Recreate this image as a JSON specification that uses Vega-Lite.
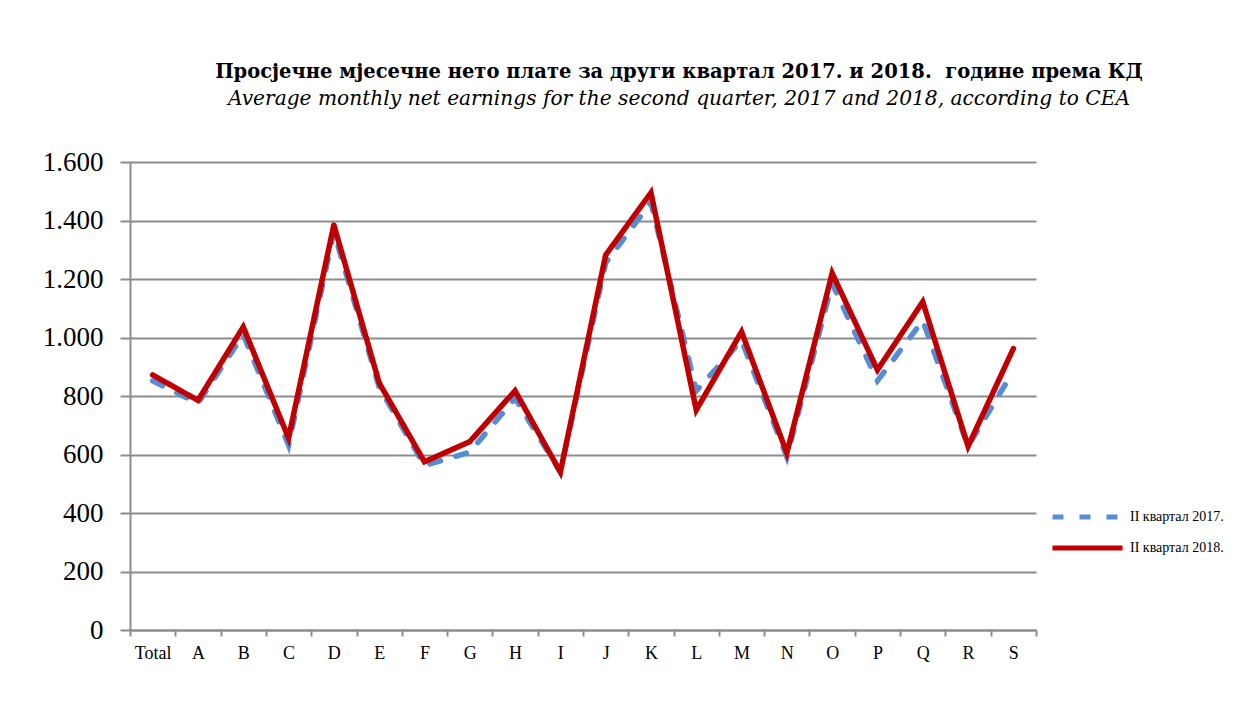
{
  "$schema": "https://vega.github.io/schema/vega-lite/v6.json",
  "width": 906,
  "height": 468,
  "autosize": {"type": "none"},
  "padding": {"left": 130, "top": 162, "right": 216, "bottom": 90},
  "background": "white",
  "title": {
    "text": "Просјечне мјесечне нето плате за други квартал 2017. и 2018. \u00a0године према КД",
    "subtitle": "Average monthly net earnings for the second quarter, 2017 and 2018, according to CEA",
    "anchor": "middle",
    "dx": 96,
    "offset": 38,
    "font": "DejaVu Serif",
    "fontSize": 19.5,
    "fontWeight": "bold",
    "color": "#000000",
    "subtitleFont": "DejaVu Serif",
    "subtitleFontSize": 20.2,
    "subtitleFontStyle": "italic",
    "subtitleColor": "#000000",
    "subtitlePadding": 6
  },
  "data": {
    "values": [
      {"kd": "Total", "serija": "II квартал 2017.", "plata": 852},
      {"kd": "A", "serija": "II квартал 2017.", "plata": 775},
      {"kd": "B", "serija": "II квартал 2017.", "plata": 1010},
      {"kd": "C", "serija": "II квартал 2017.", "plata": 632},
      {"kd": "D", "serija": "II квартал 2017.", "plata": 1362},
      {"kd": "E", "serija": "II квартал 2017.", "plata": 830},
      {"kd": "F", "serija": "II квартал 2017.", "plata": 562},
      {"kd": "G", "serija": "II квартал 2017.", "plata": 608},
      {"kd": "H", "serija": "II квартал 2017.", "plata": 792},
      {"kd": "I", "serija": "II квартал 2017.", "plata": 540},
      {"kd": "J", "serija": "II квартал 2017.", "plata": 1255},
      {"kd": "K", "serija": "II квартал 2017.", "plata": 1462},
      {"kd": "L", "serija": "II квартал 2017.", "plata": 818},
      {"kd": "M", "serija": "II квартал 2017.", "plata": 990},
      {"kd": "N", "serija": "II квартал 2017.", "plata": 592},
      {"kd": "O", "serija": "II квартал 2017.", "plata": 1185},
      {"kd": "P", "serija": "II квартал 2017.", "plata": 852},
      {"kd": "Q", "serija": "II квартал 2017.", "plata": 1058},
      {"kd": "R", "serija": "II квартал 2017.", "plata": 628},
      {"kd": "S", "serija": "II квартал 2017.", "plata": 885},
      {"kd": "Total", "serija": "II квартал 2018.", "plata": 872},
      {"kd": "A", "serija": "II квартал 2018.", "plata": 785},
      {"kd": "B", "serija": "II квартал 2018.", "plata": 1036},
      {"kd": "C", "serija": "II квартал 2018.", "plata": 656},
      {"kd": "D", "serija": "II квартал 2018.", "plata": 1385},
      {"kd": "E", "serija": "II квартал 2018.", "plata": 845},
      {"kd": "F", "serija": "II квартал 2018.", "plata": 575},
      {"kd": "G", "serija": "II квартал 2018.", "plata": 644},
      {"kd": "H", "serija": "II квартал 2018.", "plata": 818},
      {"kd": "I", "serija": "II квартал 2018.", "plata": 540},
      {"kd": "J", "serija": "II квартал 2018.", "plata": 1282},
      {"kd": "K", "serija": "II квартал 2018.", "plata": 1495},
      {"kd": "L", "serija": "II квартал 2018.", "plata": 752},
      {"kd": "M", "serija": "II квартал 2018.", "plata": 1020},
      {"kd": "N", "serija": "II квартал 2018.", "plata": 605},
      {"kd": "O", "serija": "II квартал 2018.", "plata": 1220},
      {"kd": "P", "serija": "II квартал 2018.", "plata": 889},
      {"kd": "Q", "serija": "II квартал 2018.", "plata": 1122},
      {"kd": "R", "serija": "II квартал 2018.", "plata": 628},
      {"kd": "S", "serija": "II квартал 2018.", "plata": 962}
    ]
  },
  "mark": {"type": "line", "strokeWidth": 5.5, "strokeCap": "round", "strokeJoin": "miter"},
  "encoding": {
    "x": {
      "field": "kd",
      "type": "ordinal",
      "sort": ["Total", "A", "B", "C", "D", "E", "F", "G", "H", "I", "J", "K", "L", "M", "N", "O", "P", "Q", "R", "S"],
      "scale": {"type": "band", "paddingInner": 0, "paddingOuter": 0},
      "axis": {
        "title": null,
        "labelAngle": 0,
        "labelFont": "Liberation Serif",
        "labelFontSize": 18,
        "labelColor": "#000000",
        "labelPadding": 8,
        "tickBand": "extent",
        "tickSize": 6,
        "tickColor": "#8c8c8c",
        "tickWidth": 2,
        "domainColor": "#8c8c8c",
        "domainWidth": 2,
        "grid": false
      }
    },
    "y": {
      "field": "plata",
      "type": "quantitative",
      "scale": {"domain": [0, 1600], "nice": false, "zero": true},
      "axis": {
        "title": null,
        "values": [0, 200, 400, 600, 800, 1000, 1200, 1400, 1600],
        "labelExpr": "replace(format(datum.value, ','), ',', '.')",
        "labelFont": "Liberation Serif",
        "labelFontSize": 27,
        "labelColor": "#000000",
        "labelPadding": 17,
        "tickSize": 10,
        "tickColor": "#8c8c8c",
        "tickWidth": 2,
        "domainColor": "#8c8c8c",
        "domainWidth": 2,
        "grid": true,
        "gridColor": "#8c8c8c",
        "gridWidth": 2
      }
    },
    "color": {
      "field": "serija",
      "type": "nominal",
      "scale": {"domain": ["II квартал 2017.", "II квартал 2018."], "range": ["#558ed5", "#c00000"]},
      "legend": {
        "title": null,
        "orient": "none",
        "legendX": 920,
        "legendY": 345,
        "symbolType": "stroke",
        "symbolSize": 4900,
        "symbolStrokeWidth": 5,
        "clipHeight": 20,
        "rowPadding": 11,
        "labelFont": "Liberation Serif",
        "labelFontSize": 14,
        "labelColor": "#000000",
        "labelOffset": 5
      }
    },
    "strokeDash": {
      "field": "serija",
      "type": "nominal",
      "scale": {"domain": ["II квартал 2017.", "II квартал 2018."], "range": [[11, 16], [1, 0]]},
      "legend": {
        "title": null,
        "orient": "none",
        "legendX": 920,
        "legendY": 345,
        "symbolType": "stroke",
        "symbolSize": 4900,
        "symbolStrokeWidth": 5,
        "clipHeight": 20,
        "rowPadding": 11,
        "labelFont": "Liberation Serif",
        "labelFontSize": 14,
        "labelColor": "#000000",
        "labelOffset": 5
      }
    }
  },
  "config": {
    "view": {"stroke": null}
  }
}
